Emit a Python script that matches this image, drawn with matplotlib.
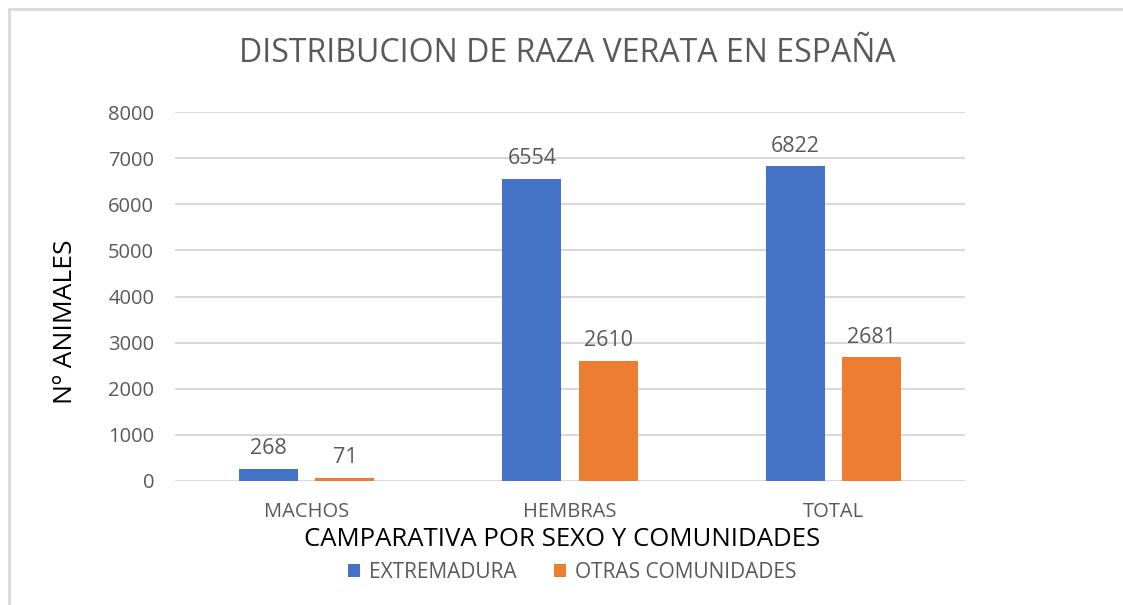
import matplotlib.pyplot as plt
import numpy as np
from matplotlib.patches import Rectangle

plt.rcParams['font.family'] = ['Open Sans', 'DejaVu Sans']

categorias = ['MACHOS', 'HEMBRAS', 'TOTAL']
extremadura = [268, 6554, 6822]
otras = [71, 2610, 2681]
series = ['EXTREMADURA', 'OTRAS COMUNIDADES']

azul = '#4472C4'
naranja = '#ED7D31'
gris = '#595959'

fig = plt.figure(figsize=(11.23, 6.05), dpi=100)
ax = fig.add_axes([175 / 1123, 1 - 481 / 605, 790 / 1123, 369 / 605])

x = np.arange(len(categorias))
ancho = 0.225
b1 = ax.bar(x - 0.145, extremadura, ancho, color=azul, label=series[0], zorder=3)
b2 = ax.bar(x + 0.145, otras, ancho, color=naranja, label=series[1], zorder=3)

for barras in (b1, b2):
    for b in barras:
        ax.annotate(f'{int(b.get_height())}', (b.get_x() + b.get_width() / 2, b.get_height()),
                    xytext=(0, 7), textcoords='offset points', ha='center', va='bottom',
                    fontsize=15.5, color=gris)

ax.set_xlim(-0.5, 2.5)
ax.set_ylim(0, 8000)
ax.set_yticks(np.arange(0, 8001, 1000))
ax.set_xticks(x)
ax.set_xticklabels(categorias)
ax.yaxis.grid(True, color='#D9D9D9', linewidth=1.5, zorder=0)
ax.tick_params(axis='both', length=0, labelsize=14.5, labelcolor=gris)
ax.tick_params(axis='x', pad=15)
ax.tick_params(axis='y', pad=15)
for s in ax.spines.values():
    s.set_visible(False)

fig.text(567 / 1123, 1 - 54 / 605, 'DISTRIBUCION DE RAZA VERATA EN ESPAÑA', ha='center', va='center',
         fontsize=23, color=gris)
fig.text(66 / 1123, 1 - 322 / 605, 'Nº ANIMALES', rotation=90, ha='center', va='center',
         fontsize=19, color='black')
fig.text(562 / 1123, 1 - 540 / 605, 'CAMPARATIVA POR SEXO Y COMUNIDADES', ha='center', va='center',
         fontsize=18.5, color='black')

fig.legend(handles=[b1, b2], loc='center', bbox_to_anchor=(572 / 1123, 1 - 572 / 605), ncol=2,
           frameon=False, fontsize=15, labelcolor=gris, handlelength=0.6, handleheight=0.6,
           columnspacing=1.8, handletextpad=0.4)

fig.patches.append(Rectangle((9 / 1123, -0.1), 1.2, 1 - 9 / 605 + 0.1, transform=fig.transFigure,
                             fill=False, edgecolor='#D9D9D9', linewidth=2))

plt.savefig('out.png', dpi=100)
